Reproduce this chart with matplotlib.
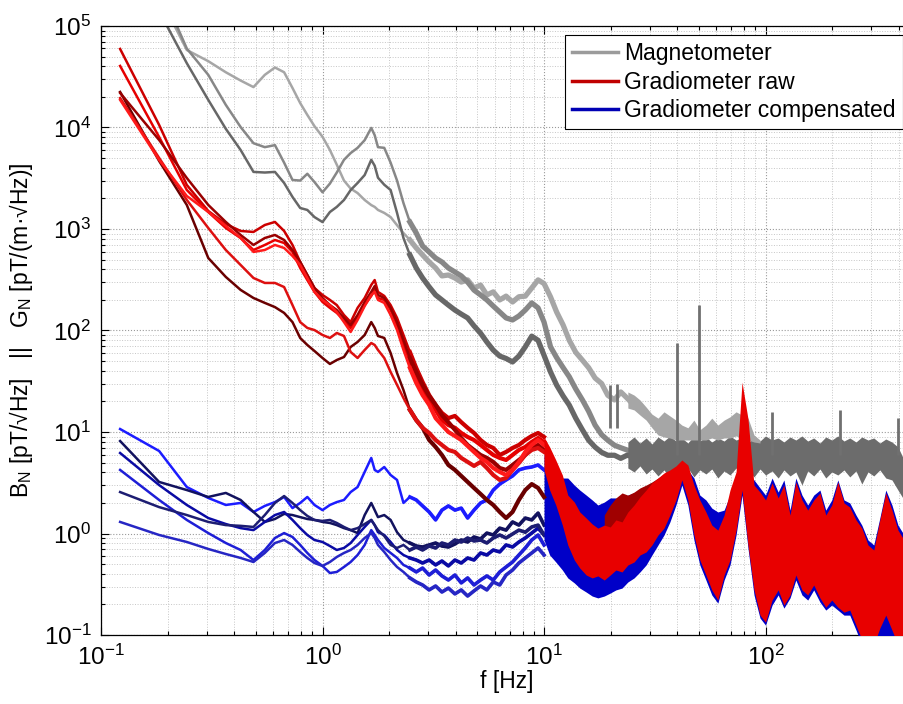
import matplotlib
matplotlib.use("Agg")
import matplotlib.pyplot as plt
from matplotlib.lines import Line2D
from matplotlib.ticker import LogLocator, NullFormatter, FixedLocator

plt.rcParams["font.family"] = ["Liberation Sans", "DejaVu Sans"]
plt.rcParams["mathtext.fontset"] = "custom"
plt.rcParams["mathtext.rm"] = "Liberation Sans"
plt.rcParams["mathtext.it"] = "Liberation Sans:italic"
plt.rcParams["mathtext.default"] = "regular"

# ---- low-frequency part: individual spectra (Hz) ----
F_LO = [0.122, 0.183, 0.244, 0.305, 0.366, 0.427, 0.488, 0.549, 0.61, 0.671,
        0.732, 0.793, 0.854, 0.92, 1.0, 1.08, 1.16, 1.25, 1.34, 1.44,
        1.55, 1.66, 1.72, 1.78, 1.9, 2.03, 2.17, 2.32, 2.48, 2.65,
        2.83, 3.03, 3.24, 3.46, 3.7, 3.96, 4.23, 4.52, 4.83, 5.17,
        5.52, 5.9, 6.31, 6.74, 7.21, 7.7, 8.23, 8.8, 9.4, 10.0,
        10.7, 11.4, 12.2, 13.0, 13.9, 14.9, 15.9, 17.0, 18.2, 19.4,
        20.8, 22.2, 23.7, 25.4]

# magnetometer B_N [pT/sqrt(Hz)]
MAG_LIGHT = [6e5, 2.0e5, 5.8e4, 4.5e4, 3.5e4, 2.9e4, 2.5e4, 3.3e4, 3.9e4, 3.5e4,
             2.45e4, 1.74e4, 1.33e4, 1.03e4, 8.1e3, 6.0e3, 4.3e3, 3.0e3, 2.5e3, 2.26e3,
             1.93e3, 1.72e3, 1.65e3, 1.54e3, 1.44e3, 1.31e3, 1.09e3, 912, 780, 650,
             555, 473, 413, 345, 352, 329, 300, 315, 262, 280,
             224, 240, 200, 218, 191, 215, 218, 262, 315, 290,
             214, 152, 113, 80, 61, 51, 43, 34, 30, 23,
             20.7, 24.8, 21.6, 18.4]
MAG_MID = [1e6, 2.5e5, 6.0e4, 3.3e4, 1.67e4, 1.01e4, 7.0e3, 6.4e3, 6.7e3, 4.5e3,
           3.04e3, 3.0e3, 3.5e3, 2.9e3, 2.3e3, 2.8e3, 3.6e3, 4.8e3, 5.6e3, 6.3e3,
           7.5e3, 9.9e3, 8.4e3, 6.4e3, 6.3e3, 4.5e3, 3.0e3, 1.8e3, 1.17e3, 912,
           680, 593, 517, 473, 413, 377, 345, 300, 250, 224,
           200, 174, 152, 133, 127, 139, 159, 187, 167, 121,
           69, 54, 43, 35, 26.6, 20.7, 16, 11.7, 9.4, 8.3,
           7.4, 7.0, 6.65, 6.3]
MAG_DARK = [7.7e5, 1.4e5, 4.3e4, 1.87e4, 9.7e3, 6.0e3, 3.65e3, 3.6e3, 3.65e3, 2.84e3,
            2.07e3, 1.61e3, 1.54e3, 1.31e3, 1.17e3, 1.47e3, 1.65e3, 1.93e3, 2.42e3, 2.84e3,
            3.4e3, 4.8e3, 4.2e3, 3.2e3, 2.73e3, 2.42e3, 1.44e3, 815, 555, 413,
            329, 269, 224, 200, 178, 159, 145, 133, 111, 94,
            77, 64, 56, 53, 49, 56, 69, 88, 80, 57,
            39, 29, 22.6, 18.4, 13.7, 10.5, 8.3, 7.1, 6.3, 5.9,
            5.9, 5.5, 5.9, 5.7]

# raw gradiometer G_N [pT/(m sqrt(Hz))]
RAW_1 = [59400, 10600, 2715, 1505, 1120, 956, 935, 1095, 1173, 956,
         696, 473, 352, 262, 224, 200, 178, 142, 121, 167,
         209, 281, 314, 240, 219, 178, 133, 90.3, 61.4, 42.7,
         31.1, 23.1, 18.5, 15.4, 13.7, 14.4, 12.5, 11.0, 9.78, 8.34,
         7.45, 6.96, 5.94, 6.36, 6.96, 7.45, 8.34, 9.14, 9.78, 8.93]
RAW_2 = [40400, 8060, 2423, 1471, 1023, 815, 621, 696, 779, 728,
         594, 413, 314, 240, 191, 167, 149, 127, 106, 133,
         178, 219, 251, 209, 200, 159, 113, 72, 49, 34,
         25.9, 20.7, 16.5, 13.1, 11.7, 11.0, 9.78, 8.93, 8.34, 7.45,
         6.65, 5.94, 5.55, 5.3, 5.94, 6.65, 7.12, 7.97, 8.73, 7.97]
RAW_3 = [22400, 4680, 1725, 518, 337, 251, 209, 187, 170, 149,
         121, 84.4, 72, 62.8, 53.6, 46.8, 51.2, 54.8, 68.8, 77.1,
         90.3, 121, 106, 88.3, 84.4, 60.0, 38.1, 25.9, 16.5, 13.1,
         11.0, 8.34, 7.12, 5.94, 4.73, 4.23, 3.69, 3.22, 2.81, 2.45,
         2.14, 1.91, 1.63, 1.42, 1.63, 2.14, 2.68, 3.07, 2.81, 2.29]
RAW_4 = [21900, 7530, 3180, 1725, 1173, 873, 696, 815, 873, 779,
         621, 473, 352, 262, 209, 178, 159, 133, 113, 142,
         191, 240, 274, 224, 209, 167, 121, 80.6, 53.6, 39.0,
         29.1, 22.6, 18.5, 14.7, 12.5, 10.5, 8.73, 7.45, 6.65, 5.94,
         5.55, 5.07, 4.42, 4.23, 4.73, 5.3, 5.94, 6.96, 7.45, 6.65]
RAW_5 = [19500, 5010, 1932, 1023, 621, 442, 329, 294, 294, 268,
         178, 121, 106, 101, 90.3, 84.4, 94.5, 88.3, 61.4, 53.6,
         64.3, 75.3, 72, 64.3, 53.6, 39.0, 29.1, 21.6, 16.5, 13.1,
         11.0, 9.78, 8.34, 7.45, 6.65, 6.36, 5.55, 5.07, 4.63, 5.07,
         4.42, 3.77, 3.37, 3.52, 4.23, 4.95, 5.94, 6.65, 6.96, 6.36]
RAW_6 = [18700, 4790, 2115, 1471, 1071, 815, 594, 621, 696, 650,
         542, 442, 329, 240, 200, 178, 152, 121, 96.7, 127,
         174, 224, 240, 200, 187, 142, 101, 64.3, 42.7, 30.4,
         23.1, 18.5, 13.7, 11.7, 10.0, 9.14, 8.34, 7.28, 6.36, 5.55,
         5.07, 4.42, 4.04, 3.77, 4.23, 5.07, 6.36, 7.45, 8.34, 7.45]

# compensated gradiometer
COMP_1 = [10.7, 6.5, 2.87, 2.24, 1.91, 2.0, 1.63, 1.87, 2.04, 2.29,
          1.78, 2.0, 2.29, 1.91, 1.70, 1.91, 2.04, 2.14, 2.56, 2.87,
          4.04, 5.55, 4.23, 4.04, 4.52, 3.77, 3.37, 2.0, 2.29, 2.14,
          1.87, 1.63, 1.36, 1.70, 1.87, 1.70, 1.78, 1.42, 1.70, 2.0,
          2.14, 2.68, 3.07, 3.37, 3.69, 4.23, 4.42, 4.52, 4.73, 4.23]
COMP_2 = [8.15, 3.22, 2.68, 2.29, 2.51, 2.14, 1.63, 1.30, 1.39, 1.56,
          1.52, 1.45, 1.39, 1.36, 1.30, 1.27, 1.21, 1.13, 1.08, 1.01,
          1.52, 2.0, 1.70, 1.45, 1.52, 1.36, 1.03, 0.863, 0.806, 0.753,
          0.736, 0.771, 0.806, 0.753, 0.736, 0.788, 0.863, 0.825, 0.924, 0.883,
          1.01, 0.967, 1.13, 1.08, 1.30, 1.21, 1.42, 1.36, 1.59, 1.21]
COMP_3 = [6.21, 3.0, 1.91, 1.42, 1.24, 1.13, 1.08, 1.30, 1.52, 1.63,
          1.36, 1.13, 0.967, 0.863, 0.825, 0.753, 0.688, 0.72, 0.806, 0.967,
          1.16, 1.36, 1.21, 1.03, 0.967, 0.825, 0.688, 0.614, 0.574, 0.548,
          0.512, 0.548, 0.49, 0.536, 0.479, 0.548, 0.512, 0.574, 0.548, 0.643,
          0.614, 0.688, 0.658, 0.771, 0.736, 0.825, 0.903, 1.01, 1.13, 0.967]
COMP_4 = [4.23, 2.14, 1.36, 1.01, 0.806, 0.688, 0.548, 0.688, 0.903, 1.01,
          0.924, 0.771, 0.643, 0.548, 0.479, 0.408, 0.418, 0.468, 0.524, 0.614,
          0.771, 1.08, 0.967, 0.863, 0.72, 0.643, 0.574, 0.49, 0.457, 0.418,
          0.457, 0.39, 0.437, 0.382, 0.348, 0.39, 0.326, 0.365, 0.311, 0.348,
          0.382, 0.348, 0.418, 0.468, 0.524, 0.614, 0.72, 0.863, 0.967, 0.771]
COMP_5 = [2.56, 1.82, 1.52, 1.30, 1.21, 1.19, 1.16, 1.52, 2.0, 2.34,
          2.0, 1.70, 1.49, 1.36, 1.33, 1.36, 1.27, 1.16, 1.08, 1.13,
          1.24, 1.36, 1.21, 1.08, 0.945, 0.771, 0.72, 0.771, 0.688, 0.736,
          0.688, 0.753, 0.72, 0.806, 0.771, 0.863, 0.825, 0.903, 0.844, 0.863,
          0.806, 0.903, 0.967, 0.903, 0.989, 1.08, 1.03, 1.16, 1.21, 0.967]
COMP_6 = [1.30, 0.967, 0.825, 0.704, 0.628, 0.574, 0.524, 0.643, 0.806, 0.863,
          0.771, 0.658, 0.574, 0.512, 0.479, 0.524, 0.587, 0.643, 0.688, 0.771,
          0.903, 1.01, 0.903, 0.771, 0.658, 0.548, 0.468, 0.418, 0.365, 0.333,
          0.311, 0.278, 0.304, 0.265, 0.29, 0.254, 0.278, 0.242, 0.272, 0.304,
          0.278, 0.333, 0.311, 0.39, 0.437, 0.512, 0.574, 0.643, 0.72, 0.614]

# ---- high-frequency part: noise envelopes (Hz) ----
F_HI = [10.0, 10.6, 11.3, 12.1, 12.8, 13.7, 14.5, 15.5, 16.5, 17.5,
        18.7, 19.9, 21.1, 22.5, 23.9, 25.5, 27.1, 28.9, 30.7, 32.7,
        34.8, 37.0, 39.4, 41.9, 44.6, 47.5, 50.5, 53.8, 57.2, 60.9,
        65.0, 69.1, 73.6, 78.3, 83.3, 88.7, 94.4, 100, 107, 114,
        121, 129, 137, 146, 155, 165, 176, 187, 199, 212,
        226, 240, 256, 272, 290, 308, 328, 349, 372, 396,
        422, 449, 478, 509]

MAG_BAND_F = F_HI[14:]
MAG_BAND_HI = [7.97, 8.93, 7.79, 8.73, 7.62, 8.93, 8.15, 9.14, 8.15, 8.73,
               7.79, 9.14, 8.15, 8.93, 7.97, 8.73, 8.15, 9.14, 8.34, 8.73,
               7.79, 8.93, 8.15, 9.14, 8.34, 8.73, 7.97, 8.93, 8.34, 9.14,
               8.15, 8.73, 7.79, 8.93, 8.34, 9.14, 8.15, 8.73, 7.97, 8.93,
               8.34, 8.73, 7.79, 8.53, 7.97, 7.12, 5.3, 4.23, 3.37, 2.68]
MAG_BAND_LO = [4.42, 4.04, 4.63, 3.86, 4.32, 3.69, 4.23, 3.52, 4.13, 3.77,
               4.42, 3.61, 4.23, 3.86, 4.32, 3.52, 4.13, 3.77, 4.42, 3.69,
               4.23, 3.61, 4.32, 3.77, 4.13, 3.52, 4.23, 3.69, 4.04, 3.0,
               4.13, 3.69, 4.32, 3.52, 4.04, 3.77, 4.23, 3.61, 4.13, 3.07,
               4.04, 3.69, 4.23, 3.52, 3.37, 2.68, 2.14, 1.70, 1.36, 1.08]

MAG_LIGHT_F = F_HI[14:37]
MAG_LIGHT_HI = [24.8, 23.1, 20.7, 17.6, 15.0, 13.7, 15.8, 14.4, 13.1, 11.7,
                11.0, 13.1, 10.5, 11.7, 13.7, 11.7, 13.1, 14.1, 15.8, 14.7,
                13.7, 9.35, 8.34]
MAG_LIGHT_LO = [17.2, 16.5, 14.7, 13.1, 11.0, 9.35, 8.93, 8.73, 8.34, 8.34,
                8.34, 8.34, 8.34, 8.34, 8.73, 8.34, 8.73, 8.73, 9.14, 8.73,
                8.34, 7.97, 7.79]

# narrow line peaks of the magnetometer
SPIKE_F = [19.9, 21.3, 40.0, 50.0, 107, 217, 395]
SPIKE_TOP = [29, 30, 75, 178, 15.7, 16.5, 13.7]
SPIKE_BASE = [11, 11, 6, 6, 6, 6, 6]

RAW_BAND_HI = [8.93, 7.12, 5.30, 3.77, 2.39, 2.04, 1.63, 1.42, 1.24, 1.13,
               1.21, 1.16, 1.36, 1.30, 1.63, 1.91, 2.29, 2.68, 3.15, 3.52,
               3.95, 4.23, 4.63, 5.30, 4.73, 3.0, 2.14, 1.63, 1.21, 1.08,
               1.52, 2.68, 4.04, 31.0, 13.5, 3.0, 2.56, 2.14, 3.15, 2.24,
               3.0, 1.52, 3.22, 2.14, 1.70, 2.14, 2.51, 1.52, 1.91, 3.22,
               2.0, 1.82, 1.36, 1.13, 0.771, 0.688, 1.36, 2.51, 1.70, 1.08,
               0.863, 0.771, 0.771, 0.771]
RAW_BAND_LO = [4.23, 2.68, 1.91, 1.21, 0.771, 0.548, 0.457, 0.39, 0.365, 0.382,
               0.348, 0.39, 0.437, 0.418, 0.49, 0.524, 0.614, 0.658, 0.771, 0.967,
               1.13, 1.52, 2.14, 3.37, 2.14, 0.967, 0.548, 0.39, 0.278, 0.221,
               0.39, 0.548, 1.08, 2.68, 0.771, 0.278, 0.157, 0.134, 0.221, 0.278,
               0.197, 0.248, 0.39, 0.278, 0.248, 0.311, 0.232, 0.188, 0.221, 0.188,
               0.168, 0.176, 0.125, 0.09, 0.08, 0.08, 0.117, 0.157, 0.112, 0.08,
               0.08, 0.08, 0.08, 0.08]
RAW_DARK_F = F_HI[10:23]
RAW_DARK_HI = [1.52, 1.91, 2.24, 2.51, 2.39, 2.56, 2.81, 3.0, 3.22, 3.52, 3.86, 4.13, 4.52]
RAW_DARK_LO = [0.771, 0.863, 0.967, 1.08, 1.13, 1.21, 1.36, 1.36, 1.52, 1.70, 1.91, 2.14, 2.68]

COMP_BAND_HI = [5.94, 5.30, 4.23, 3.52, 3.52, 3.0, 2.68, 2.39, 2.14, 1.91,
                2.04, 2.24, 2.24, 2.14, 2.39, 2.51, 2.68, 2.87, 3.15, 3.37,
                3.69, 4.04, 4.42, 4.95, 4.23, 3.52, 2.39, 2.14, 1.78, 1.63,
                1.70, 2.39, 3.37, 4.42, 3.77, 3.37, 2.81, 2.39, 3.52, 2.56,
                3.37, 1.70, 3.52, 2.39, 1.91, 2.39, 2.68, 1.70, 2.14, 3.37,
                2.14, 2.0, 1.52, 1.21, 0.863, 0.771, 1.42, 2.68, 1.91, 1.21,
                0.967, 0.863, 0.863, 0.863]
COMP_BAND_LO = [0.863, 0.614, 0.524, 0.437, 0.365, 0.326, 0.29, 0.265, 0.242, 0.232,
                0.242, 0.259, 0.278, 0.29, 0.333, 0.365, 0.418, 0.49, 0.614, 0.771,
                0.967, 1.30, 1.91, 3.0, 1.91, 0.863, 0.49, 0.348, 0.248, 0.206,
                0.348, 0.49, 0.967, 2.39, 0.72, 0.248, 0.147, 0.125, 0.197, 0.248,
                0.184, 0.232, 0.348, 0.248, 0.221, 0.278, 0.211, 0.176, 0.197, 0.176,
                0.157, 0.157, 0.112, 0.08, 0.08, 0.08, 0.08, 0.08, 0.08, 0.08,
                0.08, 0.08, 0.08, 0.08]

LABELS = ["Magnetometer", "Gradiometer raw", "Gradiometer compensated"]
X_TICKS = [0.1, 1, 10, 100]
Y_TICKS = [0.1, 1, 10, 100, 1e3, 1e4, 1e5]


def draw_series(ax, values, color, noisy_lw, z):
    n = len(values)
    ax.plot(F_LO[:n], values, color=color, lw=1.8, zorder=z, solid_joinstyle="round")
    k = next(i for i, f in enumerate(F_LO) if f >= 2.4)
    ax.plot(F_LO[k:n], values[k:], color=color, lw=noisy_lw, zorder=z,
            solid_joinstyle="round")


fig = plt.figure(figsize=(9.04, 7.04), dpi=100)
ax = fig.add_axes([0.1117, 0.0980, 0.8971, 0.8651])
ax.set_xscale("log")
ax.set_yscale("log")

# magnetometer
for vals, col in [(MAG_LIGHT, "#a6a6a6"), (MAG_MID, "#878787"), (MAG_DARK, "#676767")]:
    draw_series(ax, vals, col, 3.8, 2)
ax.fill_between(MAG_BAND_F, MAG_BAND_LO, MAG_BAND_HI, color="#6c6c6c", lw=0, zorder=2)
ax.fill_between(MAG_LIGHT_F, MAG_LIGHT_LO, MAG_LIGHT_HI, color="#a6a6a6", lw=0, zorder=2)
ax.vlines(SPIKE_F, SPIKE_BASE, SPIKE_TOP, colors="#707070", lw=2.0, zorder=2)

# compensated
blue_cols = ["#1c1cff", "#12125e", "#0a0aa4", "#1e1ed6", "#1d1d72", "#2626c4"]
for vals, col in zip([COMP_1, COMP_2, COMP_3, COMP_4, COMP_5, COMP_6], blue_cols):
    draw_series(ax, vals, col, 2.6, 3)
ax.fill_between(F_HI, COMP_BAND_LO, COMP_BAND_HI, color="#0000c8", lw=0, zorder=3)

# raw
red_cols = ["#cc0000", "#e60000", "#6a0000", "#990000", "#dd1010", "#ff1a1a"]
for vals, col in zip([RAW_1, RAW_2, RAW_3, RAW_4, RAW_5, RAW_6], red_cols):
    draw_series(ax, vals, col, 3.0, 4)
ax.fill_between(RAW_DARK_F, RAW_DARK_LO, RAW_DARK_HI, color="#a00000", lw=0, zorder=4)
ax.fill_between(F_HI, RAW_BAND_LO, RAW_BAND_HI, color="#e80000", lw=0, zorder=4)

ax.set_xlim(0.1, 458)
ax.set_ylim(0.1, 1e5)

ax.xaxis.set_major_locator(FixedLocator(X_TICKS))
ax.yaxis.set_major_locator(FixedLocator(Y_TICKS))
ax.xaxis.set_minor_locator(LogLocator(base=10, subs=range(2, 10), numticks=100))
ax.yaxis.set_minor_locator(LogLocator(base=10, subs=range(2, 10), numticks=100))
ax.xaxis.set_minor_formatter(NullFormatter())
ax.yaxis.set_minor_formatter(NullFormatter())

ax.tick_params(which="both", direction="in", top=True, right=True, width=0.8)
ax.tick_params(which="major", length=6, labelsize=17.5, pad=7)
ax.tick_params(which="minor", length=3)
ax.grid(True, which="major", ls=":", color="#9a9a9a", lw=0.8)
ax.grid(True, which="minor", ls=":", color="#c6c6c6", lw=0.7)
ax.set_axisbelow(True)
for sp in ax.spines.values():
    sp.set_linewidth(0.9)

ax.set_xlabel("f [Hz]", fontsize=16.5, labelpad=0)
ax.set_ylabel("B$_N$ [pT/\u221aHz]   ||   G$_N$ [pT/(m\u00b7\u221aHz)]", fontsize=16.5,
              labelpad=6)

handles = [Line2D([0], [0], color="#9b9b9b", lw=2.5),
           Line2D([0], [0], color="#c00000", lw=2.5),
           Line2D([0], [0], color="#0000b4", lw=2.5)]
leg = ax.legend(handles, LABELS, loc="upper right", fontsize=16.5, fancybox=False,
                edgecolor="black", framealpha=1, borderaxespad=0.4, handlelength=2.0,
                handletextpad=0.3, labelspacing=0.25, borderpad=0.3)
leg.get_frame().set_linewidth(0.8)
leg.set_zorder(10)

fig.savefig("out.png", dpi=100)
